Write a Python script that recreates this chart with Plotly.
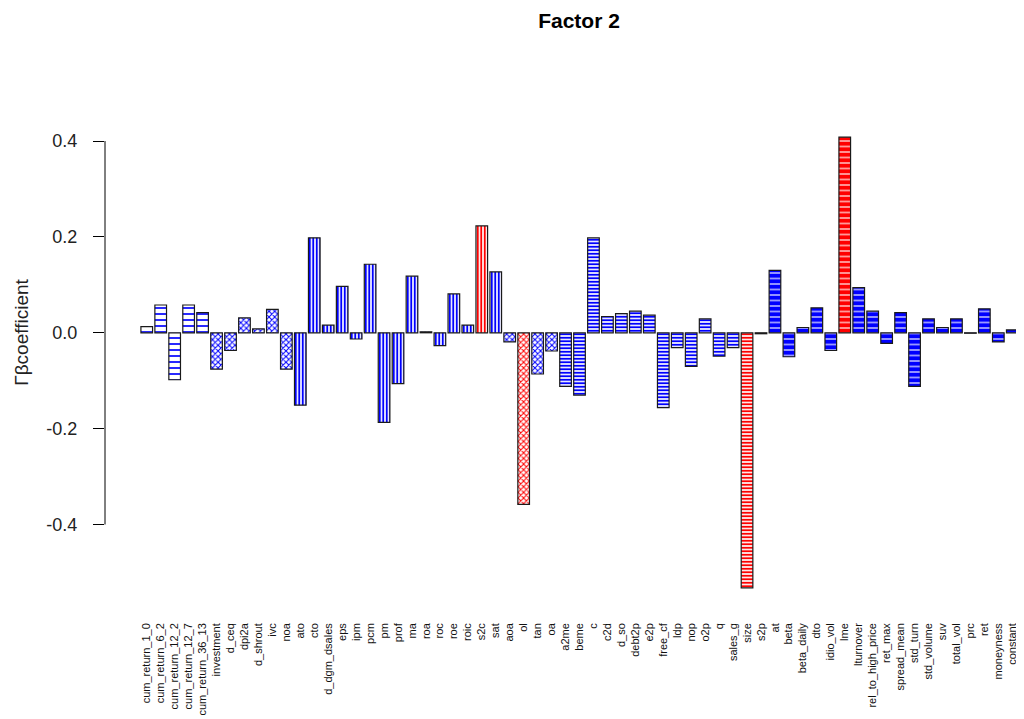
import plotly.graph_objects as go

# ---------------- data ----------------
characteristics = [
    "cum_return_1_0", "cum_return_6_2", "cum_return_12_2", "cum_return_12_7", "cum_return_36_13",
    "investment", "d_ceq", "dpi2a", "d_shrout", "ivc", "noa",
    "ato", "cto", "d_dgm_dsales", "eps", "ipm", "pcm", "pm", "prof", "ma", "roa", "roc", "roe", "roic", "s2c", "sat",
    "aoa", "ol", "tan", "oa",
    "a2me", "beme", "c", "c2d", "d_so", "debt2p", "e2p", "free_cf", "ldp", "nop", "o2p", "q", "sales_g", "size", "s2p",
    "at", "beta", "beta_daily", "dto", "idio_vol", "lme", "lturnover", "rel_to_high_price", "ret_max",
    "spread_mean", "std_turn", "std_volume", "suv", "total_vol", "prc", "ret", "moneyness", "constant",
]

gamma_beta = [
    0.013, 0.058, -0.098, 0.058, 0.042,
    -0.076, -0.037, 0.031, 0.008, 0.049, -0.076,
    -0.151, 0.198, 0.016, 0.097, -0.013, 0.143, -0.187, -0.106, 0.118, 0.002, -0.027, 0.081, 0.016, 0.223, 0.127,
    -0.019, -0.358, -0.086, -0.038,
    -0.112, -0.130, 0.198, 0.034, 0.040, 0.045, 0.037, -0.156, -0.031, -0.070, 0.029, -0.049, -0.031, -0.532, -0.002,
    0.130, -0.050, 0.011, 0.052, -0.037, 0.408, 0.094, 0.045, -0.022,
    0.042, -0.112, 0.029, 0.011, 0.029, -0.001, 0.050, -0.019, 0.006,
]

# characteristic category (drives the hatch pattern)
category = (
    ["past_returns"] * 5
    + ["investment"] * 6
    + ["profitability"] * 15
    + ["intangibles"] * 4
    + ["value"] * 15
    + ["trading"] * 18
)

significant = ["s2c", "ol", "size", "lme"]

y_tick_values = [-0.4, -0.2, 0.0, 0.2, 0.4]
y_tick_labels = ["-0.4", "-0.2", "0.0", "0.2", "0.4"]

# ---------------- styles ----------------
BLUE = "#0000ff"
RED = "#ff0000"

style = {
    #               shape, size, solidity
    "past_returns":  ("-", 6, 0.28),
    "investment":    ("x", 4, 0.45),
    "profitability": ("|", 3.5, 0.55),
    "intangibles":   ("x", 4, 0.45),
    "value":         ("-", 3.5, 0.55),
    "trading":       ("-", 5.5, 0.80),
}

shapes, sizes, solid, cols = [], [], [], []
for name, cat in zip(characteristics, category):
    shp, sz, so = style[cat]
    shapes.append(shp)
    sizes.append(sz)
    solid.append(so)
    cols.append(RED if name in significant else BLUE)

fig = go.Figure(
    go.Bar(
        x=characteristics,
        y=gamma_beta,
        marker=dict(
            color=cols,
            line=dict(color="#1a1a1a", width=1.2),
            pattern=dict(
                shape=shapes,
                size=sizes,
                solidity=solid,
                bgcolor="#ffffff",
                fillmode="replace",
            ),
        ),
        showlegend=False,
    )
)

# R-style y axis line spanning only the tick range
fig.add_shape(
    type="line", xref="paper", yref="y",
    x0=0, x1=0, y0=min(y_tick_values), y1=max(y_tick_values),
    line=dict(color="#000000", width=1),
)

fig.add_annotation(
    text="Γβcoefficient", textangle=-90,
    xref="paper", yref="y", x=0, y=0.0, xanchor="center", yanchor="middle",
    xshift=-83, showarrow=False,
    font=dict(family="Liberation Sans, Arial, sans-serif", size=19, color="#222222"),
)

# page body has an 8px margin: figure spans page x 8..1024, y 8..719
fig.update_layout(
    width=1016, height=711, autosize=False,
    paper_bgcolor="white", plot_bgcolor="white",
    margin=dict(l=97, r=0, t=111, b=113),
    bargap=0.2 / 1.2,
    title=dict(
        text="<b>Factor 2</b>", x=571 / 1016, xanchor="center",
        y=1 - 13 / 711, yanchor="middle", yref="container",
        font=dict(family="Liberation Sans, Arial, sans-serif", size=21, color="#000000"),
    ),
    font=dict(family="Liberation Sans, Arial, sans-serif", color="#222222"),
)

fig.update_xaxes(
    type="category",
    range=[-2.99, 62.84],
    tickmode="array", tickvals=characteristics, ticktext=characteristics,
    tickangle=-90,
    tickfont=dict(size=11, color="#111111"),
    showline=False, showgrid=False, zeroline=False, ticks="",
    ticklabelstandoff=14,
)

fig.update_yaxes(
    range=[-0.570, 0.446],
    tickvals=y_tick_values, ticktext=y_tick_labels,
    ticks="outside", ticklen=11, tickcolor="#000000", tickwidth=1,
    tickfont=dict(size=18, color="#222222"),
    showline=False, showgrid=False, zeroline=False,
    ticklabelstandoff=12,
)

fig.write_html("out.html")
